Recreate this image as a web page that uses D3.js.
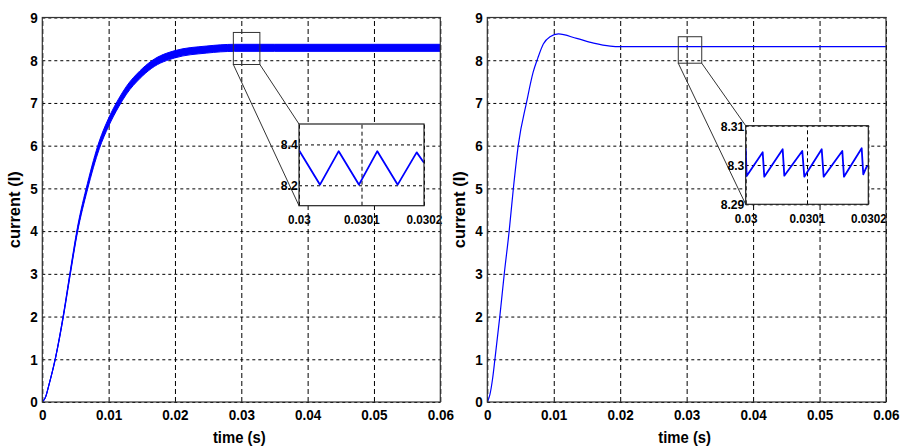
<!DOCTYPE html>
<html><head><meta charset="utf-8">
<script src="https://cdn.jsdelivr.net/npm/d3@7"></script>
<style>
body{margin:0;background:#fff;}
svg{display:block;}
text{font-family:"Liberation Sans",Arial,sans-serif;font-weight:bold;fill:#000;}
</style></head><body>
<svg id="c" width="901" height="446"></svg>
<script>
// ---------- data ----------
const xTicks = [0, 0.01, 0.02, 0.03, 0.04, 0.05, 0.06];
const xTickLabels = ["0", "0.01", "0.02", "0.03", "0.04", "0.05", "0.06"];
const yTicks = [0, 1, 2, 3, 4, 5, 6, 7, 8, 9];
const yTickLabels = ["0", "1", "2", "3", "4", "5", "6", "7", "8", "9"];
const xTitle = "time (s)";
const yTitle = "current (I)";

// left panel: average current and ripple (peak-to-peak)
const leftTime    = [0, 0.0005, 0.001, 0.002, 0.0032, 0.0042, 0.0053, 0.0068, 0.0086, 0.01, 0.0115, 0.0127, 0.0147, 0.0165, 0.02, 0.0248, 0.029, 0.035, 0.06];
const leftCurrent = [0, 0.12, 0.4, 1.04, 2.04, 3.01, 4.03, 5.04, 6.02, 6.55, 7.0, 7.3, 7.66, 7.9, 8.14, 8.25, 8.29, 8.29, 8.29];
const leftRipple  = [0, 0.0, 0.01, 0.03, 0.06, 0.09, 0.12, 0.15, 0.18, 0.19, 0.19, 0.185, 0.18, 0.175, 0.17, 0.165, 0.165, 0.165, 0.165];

// right panel current
const rightTime    = [0, 0.0004, 0.0008, 0.00116, 0.00191, 0.00256, 0.00331, 0.00391, 0.00467, 0.00593, 0.0069, 0.0076, 0.00843, 0.00944, 0.0107, 0.01345, 0.016, 0.0185, 0.02, 0.06];
const rightCurrent = [0, 0.18, 0.55, 1.02, 2.04, 3.01, 4.03, 4.98, 6.02, 7.03, 7.72, 8.05, 8.38, 8.55, 8.615, 8.51, 8.40, 8.33, 8.317, 8.317];

// zoom insets
const insetXTicks = [0.03, 0.0301, 0.0302];
const insetXTickLabels = ["0.03", "0.0301", "0.0302"];

const leftZoomTime    = [0.03, 0.0300336, 0.0300635, 0.030096, 0.0301253, 0.0301579, 0.0301883, 0.0302];
const leftZoomCurrent = [8.372, 8.203, 8.367, 8.203, 8.367, 8.203, 8.361, 8.31];
const leftZoomYDomain = [8.1, 8.5];
const leftZoomYTicks = [8.2, 8.4];
const leftZoomYTickLabels = ["8.2", "8.4"];
const leftZoomWindow = {t: [0.0288, 0.0328], i: [7.9, 8.65]};

const rightZoomTime    = [0.03, 0.0300016, 0.0300277, 0.0300303, 0.0300603, 0.030063, 0.0300923, 0.0300956, 0.030124, 0.0301272, 0.0301576, 0.0301603, 0.0301892, 0.0301918, 0.0301973, 0.0302];
const rightZoomCurrent = [8.30425, 8.2972, 8.30323, 8.29703, 8.30399, 8.29728, 8.30356, 8.29703, 8.30399, 8.29703, 8.30356, 8.29703, 8.30425, 8.29763, 8.29957, 8.29982];
const rightZoomYDomain = [8.29, 8.31];
const rightZoomYTicks = [8.29, 8.3, 8.31];
const rightZoomYTickLabels = ["8.29", "8.3", "8.31"];
const rightZoomWindow = {t: [0.02874, 0.03227], i: [7.93, 8.55]};

// ---------- drawing ----------
const svg = d3.select("#c");
const BLUE = "#0000ff";
const SX = 0.9;

function styleText(sel, size) {
  sel.attr("font-size", size).attr("transform", `scale(${SX},1)`);
}

function drawPanel(p) {
  const g = svg.append("g");
  const x = d3.scaleLinear().domain([0, 0.06]).range([p.x0, p.x1]);
  const y = d3.scaleLinear().domain([0, 9]).range([p.y0, p.y1]);
  const h = p.y0 - p.y1, w = p.x1 - p.x0;

  // x axis + vertical grid
  const gx = g.append("g").attr("transform", `translate(0,${p.y0})`)
    .call(d3.axisBottom(x).tickValues(xTicks).tickFormat((d, i) => xTickLabels[i])
      .tickSizeInner(-h).tickSizeOuter(0).tickPadding(7.5));
  gx.select(".domain").remove();
  gx.selectAll(".tick line").attr("stroke", "#000").attr("stroke-dasharray", "5,3");
  styleText(gx.selectAll("text"), 15);

  // y axis + horizontal grid
  const gy = g.append("g").attr("transform", `translate(${p.x0},0)`)
    .call(d3.axisLeft(y).tickValues(yTicks).tickFormat((d, i) => yTickLabels[i])
      .tickSizeInner(-w).tickSizeOuter(0).tickPadding(5));
  gy.select(".domain").remove();
  gy.selectAll(".tick line").attr("stroke", "#000").attr("stroke-dasharray", "3,3");
  styleText(gy.selectAll("text"), 15);

  // curve
  const clipId = "clip" + p.id;
  svg.append("clipPath").attr("id", clipId).append("rect")
    .attr("x", p.x0).attr("y", p.y1).attr("width", w).attr("height", h);
  const cg = g.append("g").attr("clip-path", `url(#${clipId})`);
  const idx = d3.range(p.time.length);
  if (p.ripple) {
    const area = d3.area().curve(d3.curveMonotoneX)
      .x(i => x(p.time[i]))
      .y0(i => y(p.current[i] - p.ripple[i] / 2))
      .y1(i => y(p.current[i] + p.ripple[i] / 2));
    cg.append("path").attr("d", area(idx)).attr("fill", BLUE).attr("stroke", BLUE).attr("stroke-width", 1);
  }
  const line = d3.line().curve(d3.curveMonotoneX).x(i => x(p.time[i])).y(i => y(p.current[i]));
  cg.append("path").attr("d", line(idx)).attr("fill", "none").attr("stroke", BLUE).attr("stroke-width", 1.2);

  // zoom window rectangle
  const zw = p.zoomWindow;
  const rx0 = x(zw.t[0]), rx1 = x(zw.t[1]), ry0 = y(zw.i[1]), ry1 = y(zw.i[0]);
  g.append("rect").attr("x", rx0).attr("y", ry0).attr("width", rx1 - rx0).attr("height", ry1 - ry0)
    .attr("fill", "none").attr("stroke", "#333").attr("stroke-width", 1);

  // inset
  const ib = p.inset;
  const ix = d3.scaleLinear().domain([insetXTicks[0], insetXTicks[2]]).range([ib.x0, ib.x1]);
  const iy = d3.scaleLinear().domain(p.zoomYDomain).range([ib.y0, ib.y1]);
  // connectors
  g.append("line").attr("x1", rx0).attr("y1", ry1).attr("x2", ib.x0).attr("y2", ib.y0)
    .attr("stroke", "#333").attr("stroke-width", 1);
  g.append("line").attr("x1", rx1).attr("y1", ry1).attr("x2", ib.x0).attr("y2", ib.y1)
    .attr("stroke", "#333").attr("stroke-width", 1);

  const ig = g.append("g");
  ig.append("rect").attr("x", ib.x0).attr("y", ib.y1).attr("width", ib.x1 - ib.x0).attr("height", ib.y0 - ib.y1)
    .attr("fill", "#fff");
  const ih = ib.y0 - ib.y1, iw = ib.x1 - ib.x0;
  const igx = ig.append("g").attr("transform", `translate(0,${ib.y0})`)
    .call(d3.axisBottom(ix).tickValues(insetXTicks).tickFormat((d, i) => insetXTickLabels[i])
      .tickSizeInner(-ih).tickSizeOuter(0).tickPadding(9.5));
  igx.select(".domain").remove();
  igx.selectAll(".tick line").attr("stroke", "#000").attr("stroke-dasharray", "4,3");
  styleText(igx.selectAll("text"), 13);
  const igy = ig.append("g").attr("transform", `translate(${ib.x0},0)`)
    .call(d3.axisLeft(iy).tickValues(p.zoomYTicks).tickFormat((d, i) => p.zoomYTickLabels[i])
      .tickSizeInner(-iw).tickSizeOuter(0).tickPadding(1.5));
  igy.select(".domain").remove();
  igy.selectAll(".tick line").attr("stroke", "#000").attr("stroke-dasharray", "3,3");
  styleText(igy.selectAll("text"), 13.5);
  const iclip = "iclip" + p.id;
  svg.append("clipPath").attr("id", iclip).append("rect")
    .attr("x", ib.x0).attr("y", ib.y1).attr("width", iw).attr("height", ih);
  const zidx = d3.range(p.zoomTime.length);
  ig.append("path").attr("clip-path", `url(#${iclip})`)
    .attr("d", d3.line().x(i => ix(p.zoomTime[i])).y(i => iy(p.zoomCurrent[i]))(zidx))
    .attr("fill", "none").attr("stroke", BLUE).attr("stroke-width", 1.8).attr("stroke-linejoin", "round");
  ig.append("rect").attr("x", ib.x0).attr("y", ib.y1).attr("width", iw).attr("height", ih)
    .attr("fill", "none").attr("stroke", "#222").attr("stroke-width", 1.2);

  // box
  g.append("rect").attr("x", p.x0).attr("y", p.y1).attr("width", w).attr("height", h)
    .attr("fill", "none").attr("stroke", "#333").attr("stroke-width", 1.2);

  // titles
  g.append("text").attr("transform", `translate(${(p.x0 + p.x1) / 2 - 2},442.5) scale(${SX},1)`)
    .attr("text-anchor", "middle").attr("font-size", 16.5).text(xTitle);
  g.append("text").attr("transform", `translate(${p.x0 - 22.5},${(p.y0 + p.y1) / 2}) rotate(-90)`)
    .attr("text-anchor", "middle").attr("font-size", 16.5).text(yTitle);
}

drawPanel({id: "L", x0: 42.3, x1: 440.3, y0: 402, y1: 17.5,
  time: leftTime, current: leftCurrent, ripple: leftRipple,
  zoomWindow: leftZoomWindow, zoomTime: leftZoomTime, zoomCurrent: leftZoomCurrent,
  zoomYDomain: leftZoomYDomain, zoomYTicks: leftZoomYTicks, zoomYTickLabels: leftZoomYTickLabels,
  inset: {x0: 299, x1: 424, y0: 205.7, y1: 124}});
drawPanel({id: "R", x0: 487.3, x1: 886, y0: 402, y1: 17.5,
  time: rightTime, current: rightCurrent, ripple: null,
  zoomWindow: rightZoomWindow, zoomTime: rightZoomTime, zoomCurrent: rightZoomCurrent,
  zoomYDomain: rightZoomYDomain, zoomYTicks: rightZoomYTicks, zoomYTickLabels: rightZoomYTickLabels,
  inset: {x0: 745.7, x1: 868.3, y0: 204.3, y1: 125.7}});
</script>
</body></html>
